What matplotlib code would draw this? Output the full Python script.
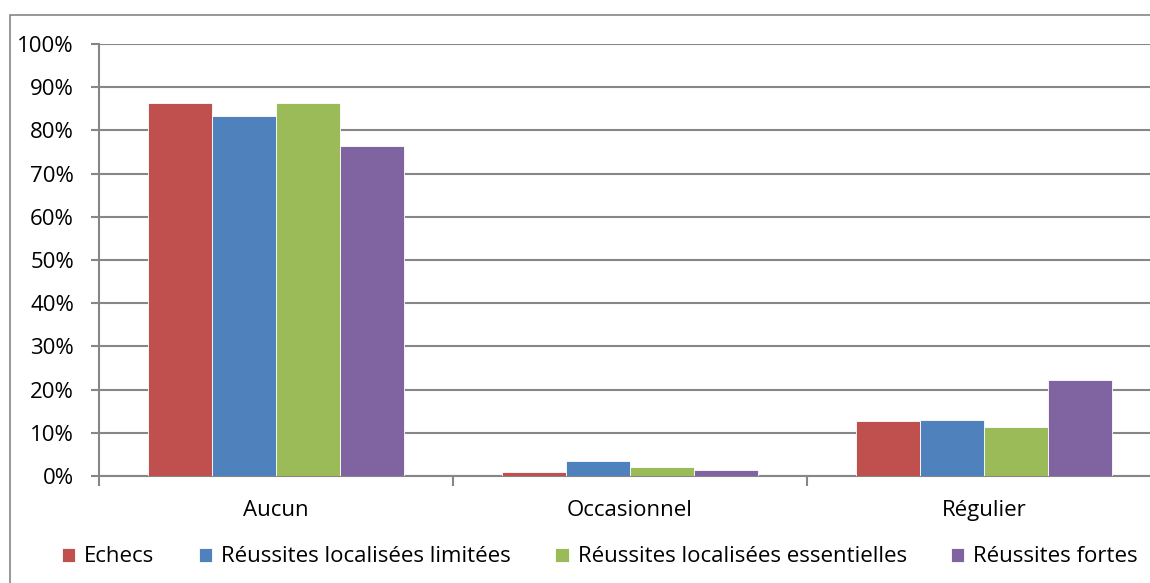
import matplotlib.pyplot as plt
import numpy as np
from matplotlib.patches import Rectangle
from matplotlib.ticker import FixedLocator

categories = ['Aucun', 'Occasionnel', 'Régulier']
series = ['Echecs', 'Réussites localisées limitées',
          'Réussites localisées essentielles', 'Réussites fortes']
values = {
    'Echecs': [86.3, 1.0, 12.7],
    'Réussites localisées limitées': [83.4, 3.5, 13.0],
    'Réussites localisées essentielles': [86.4, 2.1, 11.3],
    'Réussites fortes': [76.4, 1.3, 22.3],
}
colors = ['#C0504D', '#4F81BD', '#9BBB59', '#8064A2']
yticks = list(range(0, 101, 10))

plt.rcParams['font.family'] = ['Open Sans', 'DejaVu Sans']
grey = '#868686'
W, H = 1150, 583
fs = 16

fig = plt.figure(figsize=(W / 100, H / 100), dpi=100)
# plot area runs past the right edge (the reference is cropped)
ax = fig.add_axes([99 / W, (H - 476) / H, (1161 - 99) / W, (476 - 44) / H])

x = np.arange(len(categories))
w = 0.181
for i, s in enumerate(series):
    ax.bar(x + (i - 1.5) * w, values[s], width=w, color=colors[i],
           edgecolor='white', linewidth=0.6, label=s, zorder=3)

ax.set_xlim(-0.5, 2.5)
ax.set_ylim(0, 100)
ax.set_yticks(yticks)
ax.set_yticklabels([f'{v}%' for v in yticks], fontsize=fs)
ax.yaxis.grid(True, color=grey, linewidth=1.5, zorder=0)
ax.set_axisbelow(True)

ax.set_xticks(x)
ax.set_xticklabels(categories, fontsize=fs)
ax.tick_params(axis='x', which='major', length=0, pad=17)
ax.xaxis.set_minor_locator(FixedLocator([-0.5, 0.5, 1.5, 2.5]))
ax.tick_params(axis='x', which='minor', length=7, width=1.5, color=grey)
ax.tick_params(axis='y', length=6, width=1.5, color=grey, pad=12)

for side in ['top', 'right']:
    ax.spines[side].set_visible(False)
for side in ['left', 'bottom']:
    ax.spines[side].set_color(grey)
    ax.spines[side].set_linewidth(1.5)

fig.legend(loc='center', bbox_to_anchor=(600 / W, (H - 557) / H), ncol=4,
           frameon=False, fontsize=fs, handlelength=0.6, handleheight=0.6,
           handletextpad=0.4, columnspacing=2.0)

fig.patches.append(Rectangle((10 / W, -0.1), 1.2, (H - 15) / H + 0.1,
                             transform=fig.transFigure, fill=False,
                             edgecolor=grey, linewidth=1.2, clip_on=False))

fig.savefig('out.png', dpi=100)
